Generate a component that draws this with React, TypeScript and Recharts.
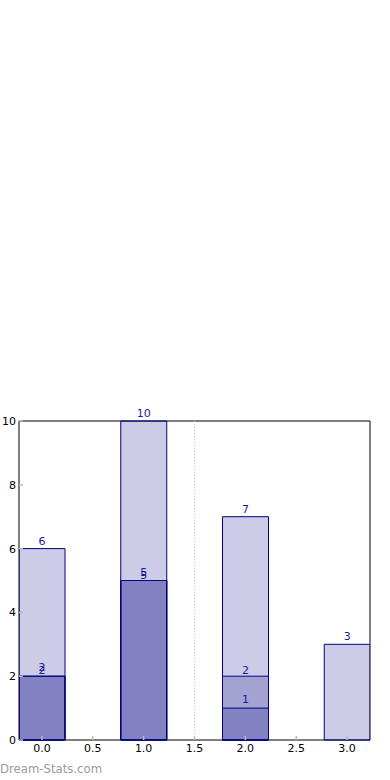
import { BarChart, Bar, XAxis, YAxis, ReferenceLine, ReferenceArea, LabelList } from "recharts";

const categories = [0, 1, 2, 3];
const totalCounts = [6, 10, 7, 3];
const midCounts = [2, 5, 2, 0];
const lowCounts = [2, 5, 1, 0];

const xTicks = [0, 0.5, 1, 1.5, 2, 2.5, 3];
const yTicks = [0, 2, 4, 6, 8, 10];
const X_DOMAIN = [-0.225, 3.225];
const Y_DOMAIN = [0, 10];

const NAVY = "#000080";
const LABEL_BLUE = "#1c1c9c";
const TICK_GRAY = "#bbbbbb";
const FONT = "DejaVu Sans, sans-serif";

const chartData = categories.map((c, i) => ({
  x: c,
  total: totalCounts[i],
  mid: midCounts[i],
  low: lowCounts[i],
}));

function BottomTick(props: any) {
  const { x, y, payload } = props;
  return (
    <g>
      <line x1={x} y1={y} x2={x} y2={y - 4} stroke={TICK_GRAY} strokeWidth={1.5} />
      <text x={x} y={y + 12} textAnchor="middle" fontSize={11} fontFamily={FONT} fill="#000">
        {Number(payload.value).toFixed(1)}
      </text>
    </g>
  );
}

function TopTick(props: any) {
  const { x, y } = props;
  return <line x1={x} y1={y} x2={x} y2={y + 4} stroke={TICK_GRAY} strokeWidth={1.5} />;
}

function LeftTick(props: any) {
  const { x, y, payload } = props;
  return (
    <g>
      <line x1={x} y1={y} x2={x + 4} y2={y} stroke={TICK_GRAY} strokeWidth={1.5} />
      <text x={x - 3} y={y + 4} textAnchor="end" fontSize={11} fontFamily={FONT} fill="#000">
        {payload.value}
      </text>
    </g>
  );
}

function RightTick(props: any) {
  const { x, y } = props;
  return <line x1={x} y1={y} x2={x - 4} y2={y} stroke={TICK_GRAY} strokeWidth={1.5} />;
}

const countLabel = (offset: number) => (props: any) => {
  const { x, y, width, value } = props;
  if (!value) return null;
  return (
    <text x={x + width / 2} y={y - offset} textAnchor="middle" fontSize={11} fontFamily={FONT} fill={LABEL_BLUE}>
      {value}
    </text>
  );
};

export default function App() {
  return (
    <div style={{ position: "absolute", left: 0, top: 0, width: 390, height: 780, background: "#fff" }}>
      <BarChart width={390} height={780} data={chartData} margin={{ top: 421, right: 0, bottom: 0, left: 0 }}>
        <XAxis
          dataKey="x"
          type="number"
          domain={X_DOMAIN}
          ticks={xTicks}
          allowDataOverflow
          height={40}
          tickSize={0}
          tickMargin={0}
          tickLine={false}
          axisLine={false}
          tick={<BottomTick />}
        />
        <XAxis
          xAxisId="top"
          orientation="top"
          dataKey="x"
          type="number"
          domain={X_DOMAIN}
          ticks={xTicks}
          allowDataOverflow
          height={0}
          tickSize={0}
          tickMargin={0}
          tickLine={false}
          axisLine={false}
          tick={<TopTick />}
        />
        <XAxis xAxisId="mid" dataKey="x" type="number" domain={X_DOMAIN} allowDataOverflow hide />
        <XAxis xAxisId="low" dataKey="x" type="number" domain={X_DOMAIN} allowDataOverflow hide />
        <YAxis
          domain={Y_DOMAIN}
          ticks={yTicks}
          width={19}
          tickSize={0}
          tickMargin={0}
          tickLine={false}
          axisLine={false}
          tick={<LeftTick />}
        />
        <YAxis
          yAxisId="right"
          orientation="right"
          domain={Y_DOMAIN}
          ticks={yTicks}
          width={20}
          tickSize={0}
          tickMargin={0}
          tickLine={false}
          axisLine={false}
          tick={<RightTick />}
        />
        <ReferenceLine x={1.5} stroke="#c8c8c8" strokeDasharray="1 2" />
        <Bar dataKey="total" barSize={46} fill={NAVY} fillOpacity={0.2} stroke={NAVY} strokeWidth={1} isAnimationActive={false}>
          <LabelList dataKey="total" content={countLabel(4)} />
        </Bar>
        <Bar xAxisId="mid" dataKey="mid" barSize={46} fill={NAVY} fillOpacity={0.2} stroke={NAVY} strokeWidth={1} isAnimationActive={false}>
          <LabelList dataKey="mid" content={countLabel(2)} />
        </Bar>
        <Bar xAxisId="low" dataKey="low" barSize={46} fill={NAVY} fillOpacity={0.2} stroke={NAVY} strokeWidth={1} isAnimationActive={false}>
          <LabelList dataKey="low" content={countLabel(5)} />
        </Bar>
        <ReferenceArea
          x1={X_DOMAIN[0]}
          x2={X_DOMAIN[1]}
          y1={Y_DOMAIN[0]}
          y2={Y_DOMAIN[1]}
          fill="none"
          stroke="#000"
          strokeWidth={1}
          ifOverflow="visible"
        />
      </BarChart>
      <div
        style={{
          position: "absolute",
          left: 0,
          top: 762,
          fontFamily: FONT,
          fontSize: 11.7,
          color: "#9a9a9a",
          whiteSpace: "nowrap",
        }}
      >
        Dream-Stats.com
      </div>
    </div>
  );
}
